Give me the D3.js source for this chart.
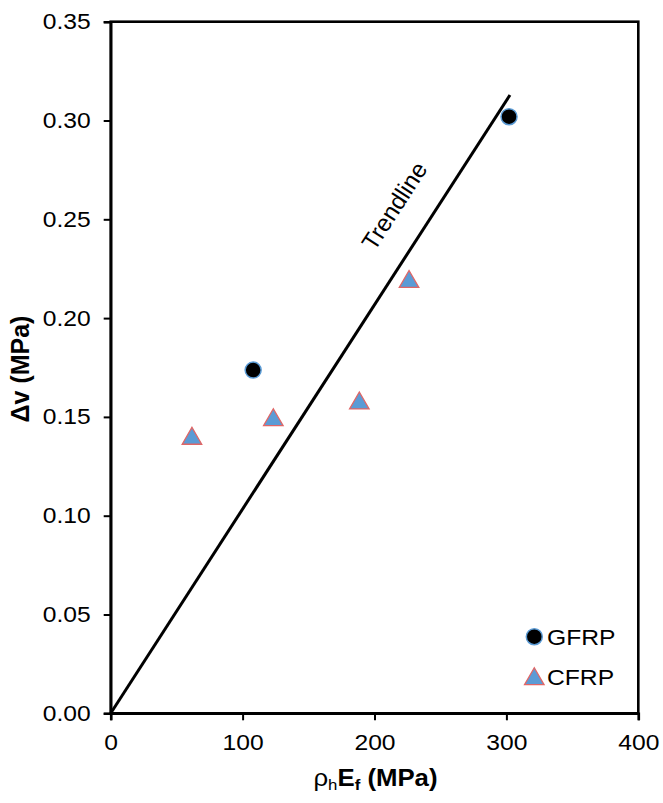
<!DOCTYPE html>
<html><head><meta charset="utf-8">
<script src="https://cdn.jsdelivr.net/npm/d3@7"></script>
<style>
html,body{margin:0;padding:0;background:#fff;}
text{font-family:Arial,"Liberation Sans",sans-serif;}
</style></head>
<body>
<svg id="chart" width="663" height="803"></svg>
<script>
const gfrpX = [108, 302];
const gfrpY = [0.1737, 0.3019];
const cfrpX = [61.6, 123.3, 188.5, 226.2];
const cfrpY = [0.139, 0.1484, 0.1569, 0.2184];
const trendX = [0, 302.7];
const trendY = [0, 0.3129];
const xTicks = [0, 100, 200, 300, 400];
const yTicks = [0, 0.05, 0.10, 0.15, 0.20, 0.25, 0.30, 0.35];
const seriesNames = ["GFRP", "CFRP"];

const svg = d3.select("#chart");
const mLeft = 110.7, mRight = 638.3, mTop = 21.7, mBottom = 713.3;
const x = d3.scaleLinear().domain([0, 400]).range([mLeft, mRight]);
const y = d3.scaleLinear().domain([0, 0.35]).range([mBottom, mTop]);
const fs = 22;
const stretch = 1.12;
const wide = [];

// frame
svg.append("rect").attr("x", mLeft).attr("y", mTop).attr("width", mRight-mLeft).attr("height", mBottom-mTop)
  .attr("fill", "none").attr("stroke", "#000").attr("stroke-width", 2.6);

// axes
const xAxis = svg.append("g").attr("transform", `translate(0,${mBottom})`)
  .call(d3.axisBottom(x).tickValues(xTicks).tickFormat(d3.format("d")).tickSize(7).tickPadding(14));
const yAxis = svg.append("g").attr("transform", `translate(${mLeft},0)`)
  .call(d3.axisLeft(y).tickValues(yTicks).tickFormat(d3.format(".2f")).tickSize(7).tickPadding(13));
[xAxis, yAxis].forEach(a => {
  a.select(".domain").attr("stroke-width", 2.6);
  a.selectAll(".tick line").attr("stroke-width", 2);
  a.selectAll(".tick text").attr("font-size", fs).attr("fill", "#000")
    .style("font-family", "Arial, 'Liberation Sans', sans-serif")
    .each(function(){ wide.push(this); });
});

// trendline
svg.append("line")
  .attr("x1", x(trendX[0])).attr("y1", y(trendY[0]))
  .attr("x2", x(trendX[1])).attr("y2", y(trendY[1]))
  .attr("stroke", "#000").attr("stroke-width", 3);
const ang = Math.atan2(y(trendY[1]) - y(trendY[0]), x(trendX[1]) - x(trendX[0])) * 180 / Math.PI;
svg.append("text").attr("transform", `translate(396,207) rotate(${ang})`)
  .attr("text-anchor", "middle").attr("dominant-baseline", "middle")
  .attr("font-size", 24).text("Trendline");

// points
const tri = d3.symbol(d3.symbolTriangle, 165);
svg.selectAll(".cf").data(cfrpX.map((v, i) => [v, cfrpY[i]])).enter().append("path")
  .attr("d", tri).attr("transform", d => `translate(${x(d[0])},${y(d[1])})`)
  .attr("fill", "#5B9BD5").attr("stroke", "#E06666").attr("stroke-width", 1.3);
svg.selectAll(".gf").data(gfrpX.map((v, i) => [v, gfrpY[i]])).enter().append("circle")
  .attr("cx", d => x(d[0])).attr("cy", d => y(d[1])).attr("r", 8)
  .attr("fill", "#000").attr("stroke", "#5B9BD5").attr("stroke-width", 1.5);

// legend
const lg = svg.append("g");
lg.append("circle").attr("cx", 534.3).attr("cy", 636.7).attr("r", 8)
  .attr("fill", "#000").attr("stroke", "#5B9BD5").attr("stroke-width", 1.5);
lg.append("path").attr("d", tri).attr("transform", "translate(534.3,679)")
  .attr("fill", "#5B9BD5").attr("stroke", "#E06666").attr("stroke-width", 1.3);
wide.push(lg.append("text").attr("x", 547).attr("y", 645).attr("font-size", fs).text(seriesNames[0]).node());
wide.push(lg.append("text").attr("x", 547).attr("y", 685).attr("font-size", fs).text(seriesNames[1]).node());

// axis titles
const xt = svg.append("text").attr("x", 375.5).attr("y", 786).attr("text-anchor", "middle")
  .attr("font-size", 23);
xt.append("tspan").text("ρ");
xt.append("tspan").attr("font-size", 15).attr("dy", 4).text("h");
xt.append("tspan").attr("font-weight", "bold").attr("dy", -4).text("E");
xt.append("tspan").attr("font-weight", "bold").attr("font-size", 15).attr("dy", 4).text("f");
xt.append("tspan").attr("font-weight", "bold").attr("dy", -4).text(" (MPa)");
wide.push(xt.node());

svg.append("text").attr("transform", "translate(29,369) rotate(-90)")
  .attr("text-anchor", "middle").attr("font-size", 25).attr("font-weight", "bold")
  .text("Δv (MPa)");

// horizontal stretch of upright labels
wide.forEach(n => {
  const w = n.getComputedTextLength();
  d3.select(n).attr("textLength", w * stretch).attr("lengthAdjust", "spacingAndGlyphs");
});
</script>
</body></html>
